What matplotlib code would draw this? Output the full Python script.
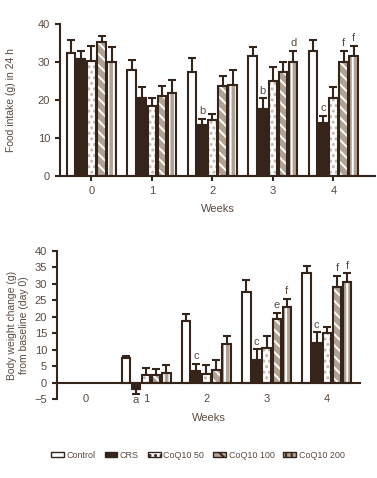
import matplotlib
matplotlib.use("Agg")
import matplotlib.pyplot as plt
from matplotlib.patches import Patch
import numpy as np

plt.rcParams['font.family'] = ['Liberation Sans', 'DejaVu Sans']
plt.rcParams['hatch.linewidth'] = 1.4

weeks = ["0", "1", "2", "3", "4"]
series = ["Control", "CRS", "CoQ10 50", "CoQ10 100", "CoQ10 200"]

food_control = [32.3, 28.0, 27.3, 31.6, 33.0]
food_crs = [30.7, 20.4, 13.5, 17.6, 14.0]
food_q50 = [30.3, 18.4, 14.7, 25.1, 20.6]
food_q100 = [35.2, 21.1, 23.6, 27.4, 30.1]
food_q200 = [29.9, 21.7, 23.9, 30.1, 31.6]
food_control_err = [3.5, 2.5, 3.8, 2.4, 2.8]
food_crs_err = [2.2, 3.1, 1.6, 2.8, 1.7]
food_q50_err = [4.0, 2.2, 1.7, 3.6, 2.7]
food_q100_err = [1.7, 2.6, 2.8, 2.7, 2.8]
food_q200_err = [4.1, 3.5, 3.9, 2.8, 2.7]

bw_control = [0, 7.5, 18.6, 27.4, 33.4]
bw_crs = [0, -1.8, 3.5, 6.8, 12.1]
bw_q50 = [0, 2.3, 2.7, 10.6, 15.1]
bw_q100 = [0, 2.3, 3.8, 19.3, 29.1]
bw_q200 = [0, 3.0, 11.6, 22.9, 30.5]
bw_control_err = [0, 0.5, 2.2, 3.8, 2.1]
bw_crs_err = [0, 1.5, 2.3, 3.3, 3.2]
bw_q50_err = [0, 2.2, 2.6, 3.5, 1.7]
bw_q100_err = [0, 1.7, 3.0, 1.8, 3.4]
bw_q200_err = [0, 2.3, 2.5, 2.6, 2.7]

# (week index, series index, letter)
food_letters = [(2, 1, "b"), (3, 1, "b"), (3, 4, "d"), (4, 1, "c"), (4, 3, "f"), (4, 4, "f")]
bw_letters = [(2, 1, "c"), (3, 1, "c"), (3, 3, "e"), (3, 4, "f"), (4, 1, "c"), (4, 3, "f"), (4, 4, "f")]
bw_below_letters = [(1, 1, "a")]

DARK = "#34241a"
TEXT = "#5a4a40"
TAN = "#b0a294"

styles = [
    dict(fc="white", hatch=None, hc=None),
    dict(fc=DARK, hatch=None, hc=None),
    dict(fc="white", hatch="...", hc="#c4b8ac"),
    dict(fc=TAN, hatch="\\\\\\", hc="white"),
    dict(fc=TAN, hatch="|||", hc="white"),
]

fig = plt.figure(figsize=(3.77, 4.78), dpi=100)
ax1 = fig.add_axes([0.159, 0.632, 0.836, 0.318])
ax2 = fig.add_axes([0.151, 0.165, 0.804, 0.310])

slot = 0.168
width = 0.14
x = np.arange(len(weeks))


def draw(ax, vals, errs, letters, below=()):
    for s, (v, e) in enumerate(zip(vals, errs)):
        st = styles[s]
        xs = x + (s - 2) * slot
        for xi, vi, ei in zip(xs, v, e):
            if vi == 0:
                continue
            if st["hatch"]:
                ax.bar(xi, vi, width, color=st["fc"], edgecolor=st["hc"], hatch=st["hatch"], linewidth=0, zorder=2)
            else:
                ax.bar(xi, vi, width, color=st["fc"], linewidth=0, zorder=2)
            ax.bar(xi, vi, width, facecolor="none", edgecolor=DARK, linewidth=1.5, zorder=3)
            if vi >= 0:
                ax.errorbar(xi, vi, yerr=[[0], [ei]], color=DARK, capsize=3, elinewidth=1.5, capthick=1.5, zorder=1)
            else:
                ax.errorbar(xi, vi, yerr=[[ei], [0]], color=DARK, capsize=3, elinewidth=1.5, capthick=1.5, zorder=1)
    for wi, si, t in letters:
        xi = x[wi] + (si - 2) * slot
        top = vals[si][wi] + errs[si][wi]
        ax.annotate(t, (xi, top), xytext=(0, 2), textcoords="offset points",
                    ha="center", va="bottom", fontsize=8, color=TEXT)
    for wi, si, t in below:
        xi = x[wi] + (si - 2) * slot
        ax.text(xi, -5.2, t, ha="center", va="center", fontsize=8, color=TEXT)


draw(ax1, [food_control, food_crs, food_q50, food_q100, food_q200],
     [food_control_err, food_crs_err, food_q50_err, food_q100_err, food_q200_err], food_letters)
draw(ax2, [bw_control, bw_crs, bw_q50, bw_q100, bw_q200],
     [bw_control_err, bw_crs_err, bw_q50_err, bw_q100_err, bw_q200_err], bw_letters, bw_below_letters)

for ax in (ax1, ax2):
    for sp in ("top", "right"):
        ax.spines[sp].set_visible(False)
    for sp in ("left", "bottom"):
        ax.spines[sp].set_color(DARK)
        ax.spines[sp].set_linewidth(1.5)
    ax.tick_params(colors=DARK, labelcolor=TEXT, labelsize=8, width=1.5, length=3.5)
    ax.set_xticks(x)
    ax.set_xticklabels(weeks)
    ax.set_facecolor("none")

ax1.set_xlim(-0.52, 4.69)
ax1.set_ylim(0, 40)
ax1.set_yticks([0, 10, 20, 30, 40])
ax1.set_ylabel("Food intake (g) in 24 h", fontsize=7.5, color=TEXT, labelpad=16)
ax1.set_xlabel("Weeks", fontsize=8, color=TEXT, labelpad=6)

ax2.set_xlim(-0.48, 4.55)
ax2.set_ylim(-5, 40)
ax2.set_yticks(range(-5, 41, 5))
ax2.set_yticklabels(["\u22125"] + [str(v) for v in range(0, 41, 5)])
ax2.spines["bottom"].set_position(("data", 0))
ax2.tick_params(axis="x", length=0, pad=8)
ax2.set_ylabel("Body weight change (g)\nfrom baseline (day 0)", fontsize=7.5, color=TEXT, labelpad=4)
ax2.set_xlabel("Weeks", fontsize=8, color=TEXT, labelpad=7)

handles = []
for s, name in enumerate(series):
    st = styles[s]
    handles.append(Patch(facecolor=st["fc"], edgecolor=DARK, hatch=st["hatch"], linewidth=1.0, label=name))
fig.legend(handles=handles, loc="center", bbox_to_anchor=(0.525, 0.048), ncol=5, frameon=False,
           fontsize=6.5, handlelength=1.4, handleheight=0.5, handletextpad=0.3, columnspacing=1.0,
           labelcolor=TEXT)

fig.savefig("out.png", dpi=100)
